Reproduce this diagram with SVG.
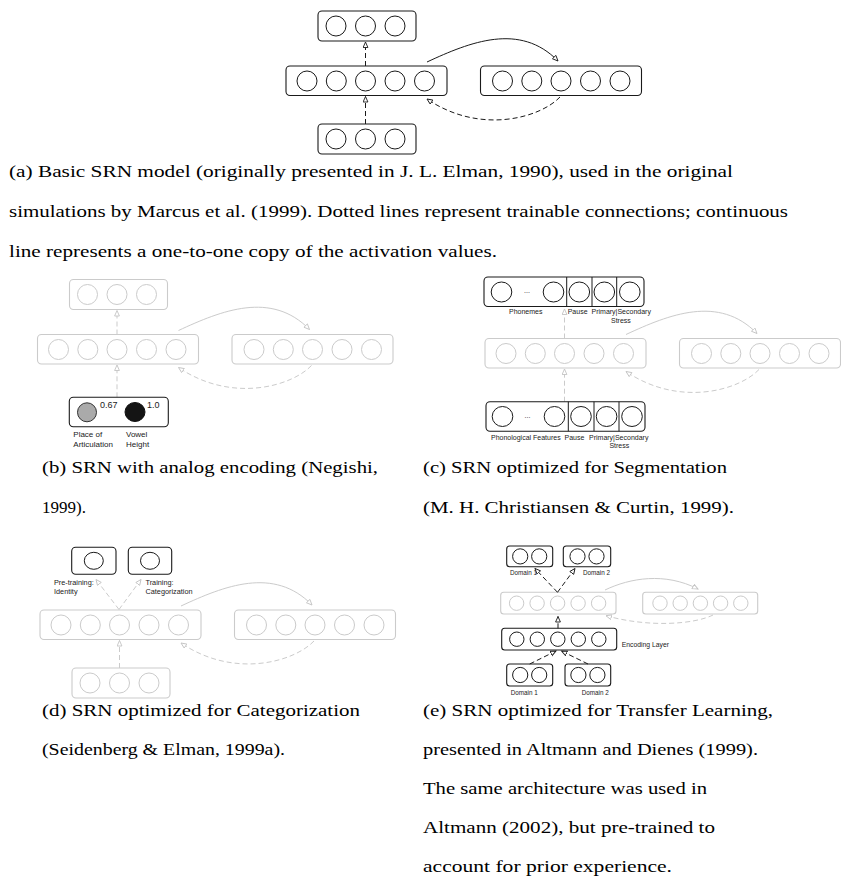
<svg xmlns="http://www.w3.org/2000/svg" width="841" height="895" viewBox="0 0 841 895">
<style>
.bk{fill:#fff;stroke:#1a1a1a;stroke-width:1.1}
.bg{fill:#fff;stroke:#cbcbcb;stroke-width:1.1}
.ck{fill:none;stroke:#1a1a1a;stroke-width:1}
.cg{fill:none;stroke:#cbcbcb;stroke-width:1}
.lk{fill:none;stroke:#1a1a1a;stroke-width:1}
.lg{fill:none;stroke:#cbcbcb;stroke-width:1}
.dk{fill:none;stroke:#1a1a1a;stroke-width:1;stroke-dasharray:5 3}
.dg{fill:none;stroke:#cbcbcb;stroke-width:1;stroke-dasharray:5 3}
.cap{font-family:"Liberation Serif","Times New Roman",serif;font-size:17px;fill:#000}
.lab{font-family:"Liberation Sans",Arial,sans-serif;font-size:7px;fill:#222}
</style>
<defs>
<marker id="ak" markerWidth="8" markerHeight="8" refX="6" refY="3" orient="auto" markerUnits="userSpaceOnUse"><path d="M0.5,0.6 L6,3 L0.5,5.4 z" fill="#fff" stroke="#1a1a1a" stroke-width="0.9"/></marker>
<marker id="ag" markerWidth="8" markerHeight="8" refX="6" refY="3" orient="auto" markerUnits="userSpaceOnUse"><path d="M0.5,0.6 L6,3 L0.5,5.4 z" fill="#fff" stroke="#c4c4c4" stroke-width="0.9"/></marker>
</defs>

<!-- ===== Panel (a) ===== -->
<g id="a-output">
<rect class="bk" x="318" y="11" width="98" height="30" rx="4"/>
<circle class="ck" cx="336" cy="26" r="10"/><circle class="ck" cx="365.5" cy="26" r="10"/><circle class="ck" cx="395" cy="26" r="10"/>
</g>
<g id="a-hidden">
<rect class="bk" x="286" y="66" width="161" height="29.5" rx="4"/>
<circle class="ck" cx="307" cy="81" r="10"/><circle class="ck" cx="336.3" cy="81" r="10"/><circle class="ck" cx="365.5" cy="81" r="10"/><circle class="ck" cx="395" cy="81" r="10"/><circle class="ck" cx="424.5" cy="81" r="10"/>
</g>
<g id="a-context">
<rect class="bk" x="480.5" y="66" width="161" height="29.5" rx="4"/>
<circle class="ck" cx="502.5" cy="81" r="10"/><circle class="ck" cx="531.8" cy="81" r="10"/><circle class="ck" cx="561" cy="81" r="10"/><circle class="ck" cx="590.5" cy="81" r="10"/><circle class="ck" cx="620" cy="81" r="10"/>
</g>
<g id="a-input">
<rect class="bk" x="318" y="124" width="98" height="30" rx="4"/>
<circle class="ck" cx="336" cy="139" r="10"/><circle class="ck" cx="365.5" cy="139" r="10"/><circle class="ck" cx="395" cy="139" r="10"/>
</g>
<g id="a-connectors">
<path class="dk" d="M365.5,124 L365.5,96.5" marker-end="url(#ak)"/>
<path class="dk" d="M365.5,66 L365.5,42" marker-end="url(#ak)"/>
<path class="lk" d="M427,62 C470,42 520,22 558,61" marker-end="url(#ak)"/>
<path class="dk" d="M560,97 C540,118 480,135 427,99" marker-end="url(#ak)"/>
</g>
<text class="cap" x="9" y="177" textLength="724" lengthAdjust="spacingAndGlyphs">(a) Basic SRN model (originally presented in J. L. Elman, 1990), used in the original</text>
<text class="cap" x="9" y="217" textLength="779" lengthAdjust="spacingAndGlyphs">simulations by Marcus et al. (1999). Dotted lines represent trainable connections; continuous</text>
<text class="cap" x="9" y="257" textLength="488" lengthAdjust="spacingAndGlyphs">line represents a one-to-one copy of the activation values.</text>

<!-- ===== Panel (b) ===== -->
<g transform="translate(-248.5,268.5)">
<g id="b-output">
<rect class="bg" x="318" y="11" width="98" height="30" rx="4"/>
<circle class="cg" cx="336" cy="26" r="10"/><circle class="cg" cx="365.5" cy="26" r="10"/><circle class="cg" cx="395" cy="26" r="10"/>
</g>
<g id="b-hidden">
<rect class="bg" x="286" y="66" width="161" height="29.5" rx="4"/>
<circle class="cg" cx="307" cy="81" r="10"/><circle class="cg" cx="336.3" cy="81" r="10"/><circle class="cg" cx="365.5" cy="81" r="10"/><circle class="cg" cx="395" cy="81" r="10"/><circle class="cg" cx="424.5" cy="81" r="10"/>
</g>
<g id="b-context">
<rect class="bg" x="480.5" y="66" width="161" height="29.5" rx="4"/>
<circle class="cg" cx="502.5" cy="81" r="10"/><circle class="cg" cx="531.8" cy="81" r="10"/><circle class="cg" cx="561" cy="81" r="10"/><circle class="cg" cx="590.5" cy="81" r="10"/><circle class="cg" cx="620" cy="81" r="10"/>
</g>
<g id="b-connectors">
<path class="dg" d="M365.5,66 L365.5,42" marker-end="url(#ag)"/>
<path class="lg" d="M427,62 C470,42 520,22 558,61" marker-end="url(#ag)"/>
<path class="dg" d="M560,97 C540,118 480,135 427,99" marker-end="url(#ag)"/>
<path class="dg" d="M365.5,128.8 L365.5,96.5" marker-end="url(#ag)"/>
</g>
</g>
<g id="b-input">
<rect class="bk" x="69.3" y="397.3" width="99" height="29.4" rx="4"/>
<circle cx="87" cy="412.3" r="9.5" fill="#aaaaaa" stroke="#333" stroke-width="1"/>
<ellipse cx="135" cy="412" rx="10" ry="9.5" fill="#141414" stroke="#111" stroke-width="1"/>
<text class="lab" x="100" y="407.5" style="font-size:9px">0.67</text>
<text class="lab" x="147" y="407.5" style="font-size:9px">1.0</text>
<text class="lab" x="73.3" y="437" style="font-size:8px">Place of</text>
<text class="lab" x="73.3" y="446.5" style="font-size:8px">Articulation</text>
<text class="lab" x="126" y="437" style="font-size:8px">Vowel</text>
<text class="lab" x="126" y="446.5" style="font-size:8px">Height</text>
</g>
<text class="cap" x="42" y="473" textLength="336" lengthAdjust="spacingAndGlyphs">(b) SRN with analog encoding (Negishi,</text>
<text class="cap" x="42" y="513">1999).</text>

<!-- ===== Panel (c) ===== -->
<g id="c-output">
<rect class="bk" x="484" y="277" width="160" height="29.5" rx="4"/>
<line class="lk" x1="566.7" y1="277" x2="566.7" y2="306.5"/>
<line class="lk" x1="592" y1="277" x2="592" y2="306.5"/>
<line class="lk" x1="616.7" y1="277" x2="616.7" y2="306.5"/>
<ellipse class="ck" cx="501.5" cy="292" rx="10.3" ry="10"/>
<text class="lab" x="527" y="293" text-anchor="middle">...</text>
<ellipse class="ck" cx="553.5" cy="292" rx="10.3" ry="10"/>
<ellipse class="ck" cx="579.3" cy="292" rx="10.3" ry="10"/>
<ellipse class="ck" cx="604.3" cy="292" rx="10.3" ry="10"/>
<ellipse class="ck" cx="629.8" cy="292" rx="10.3" ry="10"/>
<text class="lab" x="509" y="314.3">Phonemes</text>
<text class="lab" x="567.7" y="314.3">Pause</text>
<text class="lab" x="591.5" y="314.3">Primary|Secondary</text>
<text class="lab" x="611" y="322.7">Stress</text>
</g>
<g transform="translate(199,272.5)">
<g id="c-hidden">
<rect class="bg" x="286" y="66" width="161" height="29.5" rx="4"/>
<circle class="cg" cx="307" cy="81" r="10"/><circle class="cg" cx="336.3" cy="81" r="10"/><circle class="cg" cx="365.5" cy="81" r="10"/><circle class="cg" cx="395" cy="81" r="10"/><circle class="cg" cx="424.5" cy="81" r="10"/>
</g>
<g id="c-context">
<rect class="bg" x="480.5" y="66" width="161" height="29.5" rx="4"/>
<circle class="cg" cx="502.5" cy="81" r="10"/><circle class="cg" cx="531.8" cy="81" r="10"/><circle class="cg" cx="561" cy="81" r="10"/><circle class="cg" cx="590.5" cy="81" r="10"/><circle class="cg" cx="620" cy="81" r="10"/>
</g>
<g id="c-connectors">
<path class="dg" d="M365.5,66 L365.5,36.5" marker-end="url(#ag)"/>
<path class="lg" d="M427,62 C470,42 520,22 558,61" marker-end="url(#ag)"/>
<path class="dg" d="M560,97 C540,118 480,135 427,99" marker-end="url(#ag)"/>
<path class="dg" d="M365.5,129.2 L365.5,96.5" marker-end="url(#ag)"/>
</g>
</g>
<g id="c-input">
<rect class="bk" x="486" y="401.7" width="159" height="29.5" rx="4"/>
<line class="lk" x1="568.3" y1="401.7" x2="568.3" y2="431.2"/>
<line class="lk" x1="594" y1="401.7" x2="594" y2="431.2"/>
<line class="lk" x1="619" y1="401.7" x2="619" y2="431.2"/>
<ellipse class="ck" cx="502.5" cy="416.5" rx="10.3" ry="10"/>
<text class="lab" x="527.5" y="417.5" text-anchor="middle">...</text>
<ellipse class="ck" cx="554.5" cy="416.5" rx="10.3" ry="10"/>
<ellipse class="ck" cx="581" cy="416.5" rx="10.3" ry="10"/>
<ellipse class="ck" cx="606.6" cy="416.5" rx="10.3" ry="10"/>
<ellipse class="ck" cx="632" cy="416.5" rx="10.3" ry="10"/>
<text class="lab" x="491" y="439.5">Phonological Features</text>
<text class="lab" x="564.5" y="439.5">Pause</text>
<text class="lab" x="589" y="439.5">Primary|Secondary</text>
<text class="lab" x="609.4" y="448">Stress</text>
</g>
<text class="cap" x="423" y="473" textLength="304" lengthAdjust="spacingAndGlyphs">(c) SRN optimized for Segmentation</text>
<text class="cap" x="423" y="513" textLength="311" lengthAdjust="spacingAndGlyphs">(M. H. Christiansen &amp; Curtin, 1999).</text>

<!-- ===== Panel (d) ===== -->
<g id="d-identity">
<rect class="bk" x="71.7" y="547.3" width="44.3" height="27" rx="4"/>
<ellipse class="ck" cx="93.8" cy="560.8" rx="9.5" ry="8.5"/>
<text class="lab" x="54" y="585" style="font-size:7.3px">Pre-training:</text>
<text class="lab" x="54" y="594" style="font-size:7.3px">Identity</text>
</g>
<g id="d-category">
<rect class="bk" x="128.3" y="547.3" width="43.4" height="27" rx="4"/>
<ellipse class="ck" cx="150" cy="560.8" rx="9.5" ry="8.5"/>
<text class="lab" x="145.5" y="585" style="font-size:7.3px">Training:</text>
<text class="lab" x="145.5" y="594" style="font-size:7.3px">Categorization</text>
</g>
<g transform="translate(-246,544)">
<g id="d-hidden">
<rect class="bg" x="286" y="66" width="161" height="29.5" rx="4"/>
<circle class="cg" cx="307" cy="81" r="10"/><circle class="cg" cx="336.3" cy="81" r="10"/><circle class="cg" cx="365.5" cy="81" r="10"/><circle class="cg" cx="395" cy="81" r="10"/><circle class="cg" cx="424.5" cy="81" r="10"/>
</g>
<g id="d-context">
<rect class="bg" x="480.5" y="66" width="161" height="29.5" rx="4"/>
<circle class="cg" cx="502.5" cy="81" r="10"/><circle class="cg" cx="531.8" cy="81" r="10"/><circle class="cg" cx="561" cy="81" r="10"/><circle class="cg" cx="590.5" cy="81" r="10"/><circle class="cg" cx="620" cy="81" r="10"/>
</g>
<g id="d-input">
<rect class="bg" x="318" y="124" width="98" height="30" rx="4"/>
<circle class="cg" cx="336" cy="139" r="10"/><circle class="cg" cx="365.5" cy="139" r="10"/><circle class="cg" cx="395" cy="139" r="10"/>
</g>
<g id="d-connectors-a">
<path class="dg" d="M365.5,124 L365.5,96.5" marker-end="url(#ag)"/>
<path class="lg" d="M427,62 C470,42 520,22 558,61" marker-end="url(#ag)"/>
<path class="dg" d="M560,97 C540,118 480,135 427,99" marker-end="url(#ag)"/>
</g>
</g>
<g id="d-connectors">
<path class="dg" d="M119,609.5 L96,579.5" marker-end="url(#ag)"/>
<path class="dg" d="M119,609.5 L141,579.5" marker-end="url(#ag)"/>
</g>
<text class="cap" x="42" y="716" textLength="318" lengthAdjust="spacingAndGlyphs">(d) SRN optimized for Categorization</text>
<text class="cap" x="42" y="755" textLength="243" lengthAdjust="spacingAndGlyphs">(Seidenberg &amp; Elman, 1999a).</text>

<!-- ===== Panel (e) ===== -->
<g id="e-domain1-out">
<rect class="bk" x="506.7" y="546" width="46" height="20.7" rx="3"/>
<circle class="ck" cx="520.2" cy="556.4" r="7.6"/><circle class="ck" cx="539.2" cy="556.4" r="7.6"/>
<text class="lab" x="510" y="575" style="font-size:6.3px">Domain 1</text>
</g>
<g id="e-domain2-out">
<rect class="bk" x="563.3" y="546" width="47.4" height="20.7" rx="3"/>
<circle class="ck" cx="577.5" cy="556.4" r="7.6"/><circle class="ck" cx="596.5" cy="556.4" r="7.6"/>
<text class="lab" x="583" y="575" style="font-size:6.3px">Domain 2</text>
</g>
<g id="e-hidden">
<rect class="bg" x="500.7" y="592.3" width="115.3" height="21.7" rx="3"/>
<circle class="cg" cx="516.6" cy="603.2" r="7.2"/><circle class="cg" cx="537.1" cy="603.2" r="7.2"/><circle class="cg" cx="557.6" cy="603.2" r="7.2"/><circle class="cg" cx="578.1" cy="603.2" r="7.2"/><circle class="cg" cx="598.6" cy="603.2" r="7.2"/>
</g>
<g id="e-context">
<rect class="bg" x="642.7" y="592.3" width="115" height="21.7" rx="3"/>
<circle class="cg" cx="660" cy="603.2" r="7.2"/><circle class="cg" cx="680.2" cy="603.2" r="7.2"/><circle class="cg" cx="700.4" cy="603.2" r="7.2"/><circle class="cg" cx="720.6" cy="603.2" r="7.2"/><circle class="cg" cx="740.8" cy="603.2" r="7.2"/>
</g>
<g id="e-encoding">
<rect class="bk" x="501.7" y="628.3" width="115" height="21.7" rx="3"/>
<circle class="ck" cx="516.8" cy="639.2" r="7.2"/><circle class="ck" cx="537.3" cy="639.2" r="7.2"/><circle class="ck" cx="557.8" cy="639.2" r="7.2"/><circle class="ck" cx="578.3" cy="639.2" r="7.2"/><circle class="ck" cx="598.8" cy="639.2" r="7.2"/>
<text class="lab" x="621.7" y="647.3" style="font-size:6.8px">Encoding Layer</text>
</g>
<g id="e-domain1-in">
<rect class="bk" x="506.7" y="664" width="46" height="22" rx="3"/>
<circle class="ck" cx="520.2" cy="675" r="7.6"/><circle class="ck" cx="539.2" cy="675" r="7.6"/>
<text class="lab" x="510.7" y="695" style="font-size:6.3px">Domain 1</text>
</g>
<g id="e-domain2-in">
<rect class="bk" x="565" y="664" width="45.7" height="22" rx="3"/>
<circle class="ck" cx="578.4" cy="675" r="7.6"/><circle class="ck" cx="597.4" cy="675" r="7.6"/>
<text class="lab" x="581.7" y="695" style="font-size:6.3px">Domain 2</text>
</g>
<g id="e-connectors">
<path class="lg" d="M605,590 C630,578 665,572 698,589" marker-end="url(#ag)"/>
<path class="dg" d="M713,615 C695,624 650,628 606,615.7" marker-end="url(#ag)"/>
<path class="dk" d="M557.5,592.3 L535,568.5" marker-end="url(#ak)"/>
<path class="dk" d="M557.5,592.3 L575,568.5" marker-end="url(#ak)"/>
<path class="dk" d="M558,628.3 L558,616.5" marker-end="url(#ak)"/>
<path class="dk" d="M529.7,664 L556,651" marker-end="url(#ak)"/>
<path class="dk" d="M588,664 L561.5,651" marker-end="url(#ak)"/>
</g>
<text class="cap" x="423" y="716" textLength="350" lengthAdjust="spacingAndGlyphs">(e) SRN optimized for Transfer Learning,</text>
<text class="cap" x="423" y="755" textLength="335" lengthAdjust="spacingAndGlyphs">presented in Altmann and Dienes (1999).</text>
<text class="cap" x="423" y="794" textLength="284" lengthAdjust="spacingAndGlyphs">The same architecture was used in</text>
<text class="cap" x="423" y="833" textLength="292" lengthAdjust="spacingAndGlyphs">Altmann (2002), but pre-trained to</text>
<text class="cap" x="423" y="872" textLength="249" lengthAdjust="spacingAndGlyphs">account for prior experience.</text>
</svg>
